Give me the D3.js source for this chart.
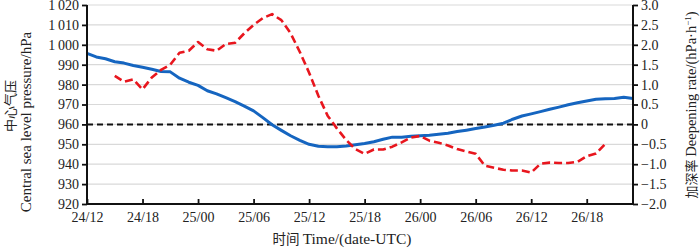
<!DOCTYPE html>
<html>
<head>
<meta charset="utf-8">
<script src="https://cdn.jsdelivr.net/npm/d3@7"></script>
<style>
	body{ margin: 0; background: #fff; }
	svg{ display: block; }
	text{ font-family: "Liberation Serif", "Times New Roman", serif; fill: #222; }
	.cjk{ font-family: "Noto Sans CJK SC", serif; }
</style>
</head>
<body>
<div id="chart"></div>
<script>
// hourly, starting 24/12 UTC
var hours = d3.range(0, 60);
var pressure = [
	995.7, 993.9, 993.0, 991.5, 990.8, 989.6, 988.7, 987.7, 986.6, 986.4,
	983.2, 981.2, 979.6, 976.9, 975.3, 973.4, 971.4, 969.2, 966.8, 963.4,
	959.8, 957.0, 954.3, 952.0, 950.0, 949.0, 948.8, 948.8, 949.2, 949.8,
	950.4, 951.3, 952.5, 953.6, 953.6, 954.0, 954.3, 954.6, 955.1, 955.6,
	956.4, 957.1, 957.9, 958.7, 959.6, 960.6, 962.6, 964.2, 965.3, 966.4,
	967.6, 968.7, 969.9, 970.9, 971.8, 972.6, 972.9, 973.0, 973.6, 973.0
];
// deepening rate, from hour 3 to hour 56
var rateStart = 3;
var rate = [
	1.22, 1.07, 1.13, 0.88, 1.18, 1.37, 1.50, 1.80, 1.85, 2.07,
	1.89, 1.85, 2.02, 2.05, 2.29, 2.50, 2.67, 2.77, 2.62, 2.29,
	1.82, 1.30, 0.72, 0.22, -0.10, -0.39, -0.62, -0.74, -0.63, -0.63,
	-0.56, -0.45, -0.33, -0.29, -0.41, -0.46, -0.53, -0.62, -0.68, -0.74,
	-1.04, -1.09, -1.14, -1.16, -1.16, -1.21, -0.99, -0.96, -0.97, -0.97,
	-0.94, -0.80, -0.73, -0.49
];
var xTickHours = [0, 6, 12, 18, 24, 30, 36, 42, 48, 54];
var xTickLabels = ["24/12", "24/18", "25/00", "25/06", "25/12", "25/18", "26/00", "26/06", "26/12", "26/18"];
var pTicks = [920, 930, 940, 950, 960, 970, 980, 990, 1000, 1010, 1020];
var rTicks = [-2.0, -1.5, -1.0, -0.5, 0, 0.5, 1.0, 1.5, 2.0, 2.5, 3.0];
var refPressure = 960;

var W = 700, H = 249,
	mLeft = 87, mRight = 633, mTop = 5, mBottom = 204;

var svg = d3.select("#chart").append("svg")
	.attr("width", W)
	.attr("height", H);

var x = d3.scaleLinear().domain([0, 59]).range([mLeft, mRight]),
	y = d3.scaleLinear().domain([920, 1020]).range([mBottom, mTop]),
	y2 = d3.scaleLinear().domain([-2, 3]).range([mBottom, mTop]);

function fmtP(v){
	var s = String(v);
	return s.length > 3 ? s.slice(0, 1) + "\u2009" + s.slice(1) : s;
}
function fmtR(v){
	if(v === 0) return "0";
	return (v < 0 ? "\u2212" : "") + Math.abs(v).toFixed(1);
}

// grid
svg.append("g").attr("class", "grid")
	.selectAll("line").data(pTicks.filter(function(d){ return d > 920; }))
	.enter().append("line")
	.attr("x1", mLeft).attr("x2", mRight)
	.attr("y1", function(d){ return y(d); })
	.attr("y2", function(d){ return y(d); })
	.attr("stroke", "#d9d9d9")
	.attr("stroke-width", 1.2);

// reference line
svg.append("line")
	.attr("x1", mLeft).attr("x2", mRight)
	.attr("y1", y(refPressure)).attr("y2", y(refPressure))
	.attr("stroke", "#111")
	.attr("stroke-width", 2)
	.attr("stroke-dasharray", "6,4");

// pressure line
var linePressure = d3.line()
	.x(function(d, i){ return x(hours[i]); })
	.y(function(d){ return y(d); });
svg.append("path")
	.datum(pressure)
	.attr("d", linePressure)
	.attr("fill", "none")
	.attr("stroke", "#1565c0")
	.attr("stroke-width", 3)
	.attr("stroke-linejoin", "round");

// deepening rate line
var lineRate = d3.line()
	.x(function(d, i){ return x(rateStart + i); })
	.y(function(d){ return y2(d); });
svg.append("path")
	.datum(rate)
	.attr("d", lineRate)
	.attr("fill", "none")
	.attr("stroke", "#e8161e")
	.attr("stroke-width", 2.6)
	.attr("stroke-dasharray", "8,4")
	.attr("stroke-linejoin", "round");

// axes
var axisL = svg.append("g")
	.attr("transform", "translate(" + mLeft + ",0)")
	.call(d3.axisLeft(y).tickValues(pTicks).tickFormat(fmtP).tickSize(5).tickPadding(3));
var axisR = svg.append("g")
	.attr("transform", "translate(" + mRight + ",0)")
	.call(d3.axisRight(y2).tickValues(rTicks).tickFormat(fmtR).tickSize(5).tickPadding(3));
var axisB = svg.append("g")
	.attr("transform", "translate(0," + mBottom + ")")
	.call(d3.axisBottom(x).tickValues(xTickHours)
		.tickFormat(function(d, i){ return xTickLabels[i]; })
		.tickSizeInner(-5).tickSizeOuter(0).tickPadding(5));
axisB.selectAll(".tick text").attr("y", 5).attr("dy", "0.95em");

[axisL, axisR, axisB].forEach(function(a){
	a.select(".domain").attr("stroke", "#111").attr("stroke-width", 2);
	a.selectAll(".tick line").attr("stroke", "#111").attr("stroke-width", 1.8);
	a.selectAll(".tick text").attr("font-size", 14).attr("fill", "#222")
		.attr("font-family", "Liberation Serif, serif");
});
axisL.select(".domain").attr("d", "M0," + mBottom + "V" + mTop);
axisR.select(".domain").attr("d", "M0," + mBottom + "V" + mTop);
axisB.select(".domain").attr("d", "M" + mLeft + ",0H" + mRight);

// titles
svg.append("text")
	.attr("class", "cjk")
	.attr("transform", "translate(15,106) rotate(-90)")
	.attr("text-anchor", "middle")
	.attr("font-size", 13)
	.text("中心气压");
svg.append("text")
	.attr("transform", "translate(31,122) rotate(-90)")
	.attr("text-anchor", "middle")
	.attr("font-size", 15)
	.text("Central sea level pressure/hPa");

var rt = svg.append("text")
	.attr("transform", "translate(696,105) rotate(-90)")
	.attr("text-anchor", "middle")
	.attr("font-size", 14.5);
rt.append("tspan").attr("class", "cjk").attr("font-size", 13).text("加深率 ");
rt.append("tspan").text("Deepening rate/(hPa·h");
rt.append("tspan").attr("font-size", 9).attr("dy", -5).text("−1");
rt.append("tspan").attr("dy", 5).text(")");

var bt = svg.append("text")
	.attr("x", 342).attr("y", 244)
	.attr("text-anchor", "middle")
	.attr("font-size", 15.5);
bt.append("tspan").attr("class", "cjk").attr("font-size", 13.5).text("时间 ");
bt.append("tspan").text("Time/(date-UTC)");
</script>
</body>
</html>
